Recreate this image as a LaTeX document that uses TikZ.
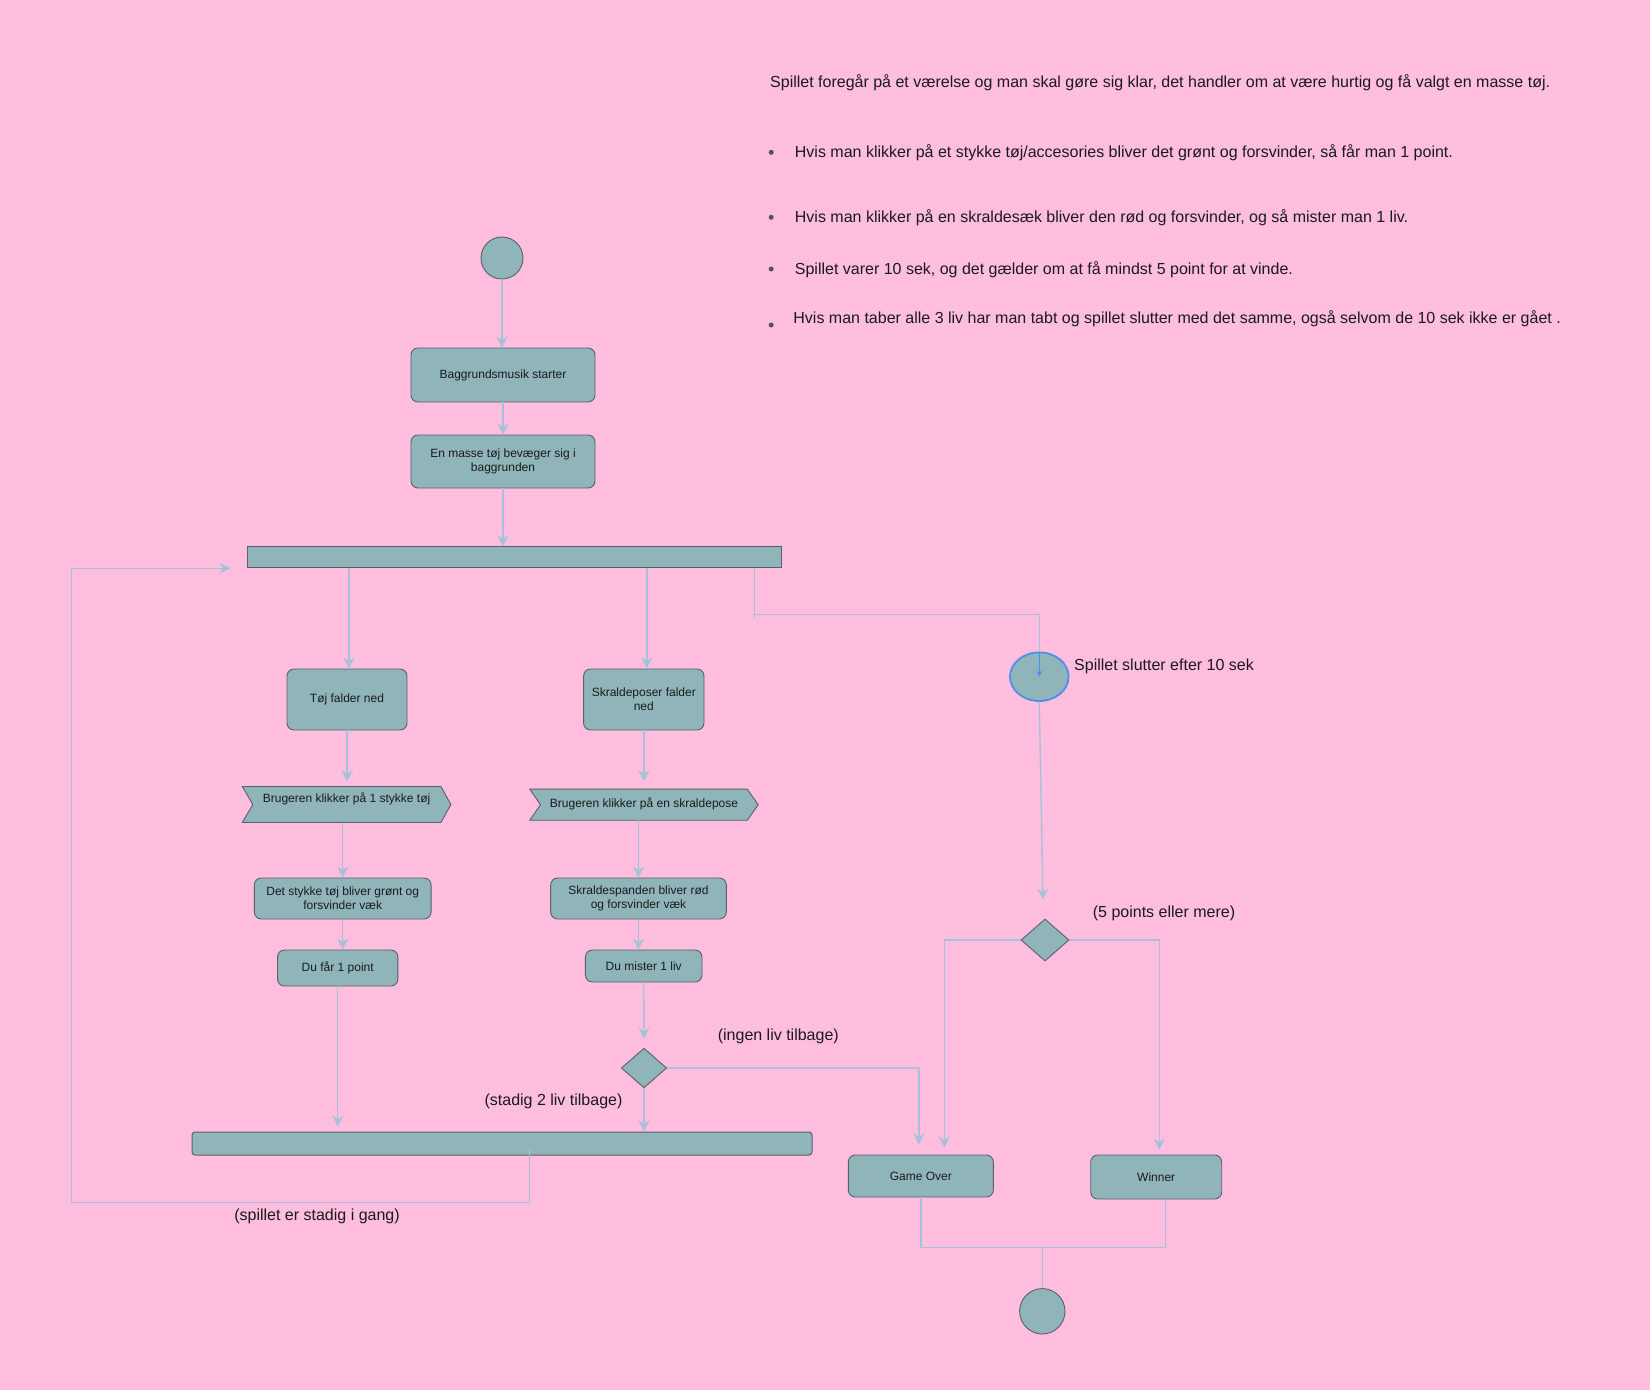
\documentclass[tikz,border=0pt]{standalone}
\usepackage{fontspec}
\setmainfont{Liberation Sans}
\usetikzlibrary{shapes.geometric,arrows.meta,calc}
\definecolor{bgpink}{HTML}{FFBEDD}
\definecolor{actfill}{HTML}{8FB5BB}
\definecolor{actline}{HTML}{5A5F66}
\definecolor{flow}{HTML}{A5C2DA}
\definecolor{selblue}{HTML}{4D8FEA}
\definecolor{ink}{HTML}{1A1A1A}
\begin{document}
\begin{tikzpicture}[x=1pt,y=-1pt,
  act/.style={draw=actline, fill=actfill, rounded corners=7pt, line width=0.9pt,
    inner sep=2pt, align=center, font=\fontsize{12}{14}\selectfont, text=ink},
  bar/.style={draw=actline, fill=actfill, line width=1pt, inner sep=0pt},
  dot/.style={circle, draw=actline, fill=actfill, line width=0.9pt, inner sep=0pt},
  choice/.style={diamond, draw=actline, fill=actfill, line width=0.9pt, inner sep=0pt},
  frame/.style={rectangle, inner sep=0pt},
  chev/.style={draw=actline, fill=actfill, line width=0.9pt},
  chevtext/.style={inner sep=0pt, font=\fontsize{12}{14}\selectfont, text=ink},
  conn/.style={draw=flow, line width=1.4pt},
  arr/.style={conn, -{Stealth[length=11pt,width=11pt,inset=3.5pt]}},
  lbl/.style={font=\fontsize{16}{19}\selectfont, text=ink, inner sep=0pt},
  bul/.style={circle, fill=ink!75, inner sep=0pt, minimum size=5pt},
]
\fill[bgpink] (0,0) rectangle (1650,1390);
\useasboundingbox (0,0) rectangle (1650,1390);

% game description
\node[lbl, anchor=base west] (intro) at (770,87.7) {Spillet foregår på et værelse og man skal gøre sig klar, det handler om at være hurtig og få valgt en masse tøj.};
\node[bul] (b1) at (771.2,152.3) {};
\node[lbl, anchor=base west] (t1) at (794.7,157.3) {Hvis man klikker på et stykke tøj/accesories bliver det grønt og forsvinder, så får man 1 point.};
\node[bul] (b2) at (771.2,217.3) {};
\node[lbl, anchor=base west] (t2) at (794.7,222.3) {Hvis man klikker på en skraldesæk bliver den rød og forsvinder, og så mister man 1 liv.};
\node[bul] (b3) at (771.2,269) {};
\node[lbl, anchor=base west] (t3) at (794.7,274) {Spillet varer 10 sek, og det gælder om at få mindst 5 point for at vinde.};
\node[bul] (b4) at (771.2,325) {};
\node[lbl, anchor=base west] (t4) at (793.2,323.5) {Hvis man taber alle 3 liv har man tabt og spillet slutter med det samme, også selvom de 10 sek ikke er gået .};

% start and opening actions
\node[dot, minimum size=42pt] (start) at (502,258) {};
\node[act, minimum width=184pt, minimum height=54pt] (musik) at (503,375) {Baggrundsmusik starter};
\node[act, minimum width=184pt, minimum height=53pt] (masse) at (503,461.5) {En masse tøj bevæger sig i\\baggrunden};

% fork bar
\node[bar, minimum width=534pt, minimum height=21pt] (fork) at (514,557.2) {};

% clothes branch
\node[act, minimum width=120pt, minimum height=61pt] (tj) at (347,699.5) {Tøj falder ned};
\node[frame, minimum width=208.2pt, minimum height=35.6pt] (c1) at (346.6,804.5) {};
\draw[chev] (c1.north west) -- ($(c1.north east)+(-10,0)$) -- (c1.east) -- ($(c1.south east)+(-10,0)$) -- (c1.south west) -- ($(c1.west)+(10.5,0)$) -- cycle;
\node[chevtext] (c1t) at (346.6,798.5) {Brugeren klikker på 1 stykke tøj};
\node[act, minimum width=176.7pt, minimum height=41pt] (gr) at (342.7,898.5) {Det stykke tøj bliver grønt og\\forsvinder væk};
\node[act, minimum width=120.4pt, minimum height=36pt] (pt) at (337.7,968) {Du får 1 point};

% trash branch
\node[act, minimum width=120.4pt, minimum height=61pt] (sk) at (643.8,699.5) {Skraldeposer falder\\ned};
\node[frame, minimum width=228pt, minimum height=30.7pt] (c2) at (644,804.7) {};
\draw[chev] (c2.north west) -- ($(c2.north east)+(-10.9,0)$) -- (c2.east) -- ($(c2.south east)+(-10.9,0)$) -- (c2.south west) -- ($(c2.west)+(10.7,0)$) -- cycle;
\node[chevtext] (c2t) at (644,804.3) {Brugeren klikker på en skraldepose};
\node[act, minimum width=175.7pt, minimum height=41pt] (rd) at (638.5,898.5) {Skraldespanden bliver rød\\og forsvinder væk};
\node[act, minimum width=116.6pt, minimum height=32pt] (liv) at (643.7,966) {Du mister 1 liv};
\node[choice, minimum width=45.4pt, minimum height=39.7pt] (d1) at (644,1068) {};

% join bar
\node[bar, rounded corners=3pt, minimum width=620pt, minimum height=23pt] (join) at (502,1143.5) {};

% timer branch
\node[ellipse, draw=selblue, fill=actfill, line width=1.8pt, inner sep=0pt,
  minimum width=58.6pt, minimum height=48.6pt] (ell) at (1039.3,676.7) {};
\node[lbl, anchor=base west] (slut) at (1074,670.7) {Spillet slutter efter 10 sek};
\node[choice, minimum width=48pt, minimum height=42pt] (d2) at (1045,940) {};

% outcomes and end
\node[act, minimum width=145pt, minimum height=42pt] (go) at (920.8,1176) {Game Over};
\node[act, minimum width=131pt, minimum height=44pt] (win) at (1156.2,1177) {Winner};
\node[dot, minimum size=45.4pt] (endc) at (1042.3,1311.3) {};

% guard labels
\node[lbl] (ingen) at (778.3,1036.7) {(ingen liv tilbage)};
\node[lbl] (stadig) at (553.5,1101) {(stadig 2 liv tilbage)};
\node[lbl] (fem) at (1164,913.3) {(5 points eller mere)};
\node[lbl] (gang) at (317,1216.7) {(spillet er stadig i gang)};

% main flow
\draw[arr] (start.south) -- (start.south |- musik.north);
\draw[arr] (musik.south) -- (musik.south |- masse.north);
\draw[arr] (masse.south) -- (masse.south |- fork.north);
\draw[arr] ($(tj.north |- fork.south)+(2,0)$) -- ($(tj.north)+(2,0)$);
\draw[arr] ($(sk.north |- fork.south)+(3,0)$) -- ($(sk.north)+(3,0)$);
\draw[arr] (tj.south) -- ($(tj.south |- c1.north)+(0,-5)$);
\draw[arr] (sk.south) -- ($(sk.south |- c2.north)+(0,-8)$);
\draw[arr] (gr.north |- c1.south) -- (gr.north);
\draw[arr] (gr.south) -- (gr.south |- pt.north);
\draw[arr] (rd.north |- c2.south) -- (rd.north);
\draw[arr] (rd.south) -- (rd.south |- liv.north);
\draw[arr] (liv.south) -- ($(d1.north)+(0,-9)$);
\draw[arr] (d1.south) -- (d1.south |- join.north);
\draw[arr] (pt.south) -- ($(pt.south |- join.north)+(0,-5)$);
\draw[arr] (d1.east) -| ($(go.north)+(-2,-10)$);

% loop back while the game runs
\draw[arr] ($(join.south west)+(338,-7)$) -- ++(0,54) -- ++(-458,0) |- ($(fork.south west)+(-16,0)$);

% timer
\draw[conn] ($(fork.south east)+(-27,0)$) -- ++(0,50);
\draw[conn] ($(fork.south east)+(-27,46)$) -| (ell.north);
\draw[selblue, line width=1.6pt, -{Stealth[length=6pt,width=6pt]}] (ell.north) -- (ell.center);
\draw[arr] (ell.south) -- ($(d2.north)+(-2,-19)$);
\draw[arr] (d2.west) -| ($(go.north)+(23.5,-7)$);
\draw[arr] (d2.east) -| ($(win.north)+(3,-5)$);

% merge to the end node
\coordinate (mrg) at ($(endc.north)+(0,-40.6)$);
\draw[conn] (go.south) |- (mrg);
\draw[conn] ($(win.south)+(9.5,0)$) |- (mrg);
\draw[conn] (mrg) -- (endc.north);
\end{tikzpicture}
\end{document}
